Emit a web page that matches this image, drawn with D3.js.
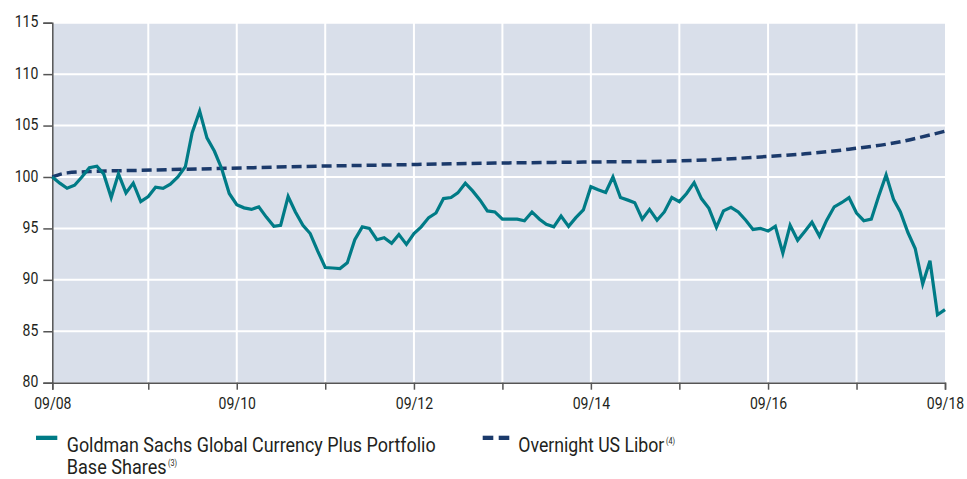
<!DOCTYPE html>
<html>
<head>
<meta charset="utf-8">
<script src="https://cdn.jsdelivr.net/npm/d3@7"></script>
<style>
  html, body { margin: 0; padding: 0; background: #ffffff; }
  svg { display: block; }
  text { font-family: Roboto, "Liberation Sans", sans-serif; fill: #231f20; }
</style>
</head>
<body>
<svg id="chart" width="967" height="479"></svg>
<script>
// ---------- DATA ----------
const startMonth = "2008-08";   // first monthly observation
const fundValues = [
  100.0, 99.4, 98.9, 99.2, 100.0, 100.9, 101.05, 100.3, 98.0, 100.3,
  98.45, 99.4, 97.6, 98.1, 99.0, 98.9, 99.3, 100.0, 101.0, 104.3,
  106.4, 103.8, 102.5, 100.8, 98.4, 97.3, 97.0, 96.85, 97.1, 96.1,
  95.2, 95.3, 98.1, 96.6, 95.3, 94.5, 92.8, 91.2, 91.15, 91.1,
  91.65, 93.9, 95.15, 95.0, 93.9, 94.1, 93.55, 94.4, 93.45, 94.5,
  95.15, 96.05, 96.5, 97.9, 98.0, 98.45, 99.4, 98.65, 97.75, 96.7,
  96.6, 95.9, 95.9, 95.9, 95.75, 96.6, 95.9, 95.4, 95.15, 96.2,
  95.2, 96.05, 96.8, 99.05, 98.75, 98.5, 100.0, 98.0, 97.75, 97.5,
  95.9, 96.85, 95.8, 96.6, 98.0, 97.6, 98.4, 99.45, 97.9, 96.95,
  95.1, 96.7, 97.05, 96.6, 95.8, 94.9, 95.0, 94.75, 95.2, 92.6,
  95.3, 93.85, 94.75, 95.6, 94.25, 95.8, 97.1, 97.5, 98.0, 96.5,
  95.75, 95.9, 98.1, 100.2, 97.8, 96.6, 94.6, 93.05, 89.6, 91.85,
  86.6, 87.1
];
const liborMonths = ["2008-08", "2008-10", "2009-02", "2009-08", "2010-08", "2011-08", "2012-08", "2013-08",
                     "2014-08", "2015-08", "2016-02", "2016-08", "2017-02", "2017-08", "2018-02", "2018-09"];
const liborValues = [100.0, 100.4, 100.55, 100.65, 100.85, 101.05, 101.2, 101.35,
                     101.45, 101.55, 101.7, 101.95, 102.25, 102.7, 103.3, 104.45];
const xTickMonths = ["2008-08", "2009-09", "2010-09", "2011-09", "2012-09", "2013-09",
                     "2014-09", "2015-09", "2016-09", "2017-09", "2018-09"];
const xTickLabels = ["09/08", "", "09/10", "", "09/12", "", "09/14", "", "09/16", "", "09/18"];
const yTicks = [80, 85, 90, 95, 100, 105, 110, 115];
const seriesNames = ["Goldman Sachs Global Currency Plus Portfolio", "Base Shares", "(3)", "Overnight US Libor", "(4)"];

// ---------- SETUP ----------
const parseMonth = d3.timeParse("%Y-%m");
const start = parseMonth(startMonth);
const fund = fundValues.map((v, i) => ({ date: d3.timeMonth.offset(start, i), value: v }));
const libor = liborMonths.map((m, i) => ({ date: parseMonth(m), value: liborValues[i] }));

const svg = d3.select("#chart");
const margin = { left: 52.3, right: 22, top: 22.7, bottom: 96.3 };
const W = 967, H = 479;
const x = d3.scaleTime()
  .domain([start, fund[fund.length - 1].date])
  .range([margin.left, W - margin.right]);
const y = d3.scaleLinear().domain([80, 115]).range([H - margin.bottom, margin.top]);

const tealColor = "#007b86";
const navyColor = "#1b3a6b";

// condensed look: squeeze glyphs horizontally
function condense(sel, factor) {
  sel.each(function () {
    const w = this.getComputedTextLength();
    if (w > 0) {
      d3.select(this).attr("textLength", w * factor).attr("lengthAdjust", "spacingAndGlyphs");
    }
  });
}

// plot background
svg.append("rect")
  .attr("x", x.range()[0]).attr("y", y(115))
  .attr("width", x.range()[1] - x.range()[0])
  .attr("height", y(80) - y(115))
  .attr("fill", "#d9dfea");

// gridlines
const tickDates = xTickMonths.map(parseMonth);
svg.append("g").selectAll("line").data(yTicks.filter(t => t > 80)).join("line")
  .attr("x1", x.range()[0]).attr("x2", x.range()[1])
  .attr("y1", d => y(d)).attr("y2", d => y(d))
  .attr("stroke", "#ffffff").attr("stroke-width", 2);
svg.append("g").selectAll("line").data(tickDates.slice(1, -1)).join("line")
  .attr("x1", d => x(d)).attr("x2", d => x(d))
  .attr("y1", y(115)).attr("y2", y(80))
  .attr("stroke", "#ffffff").attr("stroke-width", 2);

// axes
const yAxis = d3.axisLeft(y).tickValues(yTicks).tickSize(9).tickPadding(5).tickFormat(d3.format("d"));
const gy = svg.append("g").attr("transform", `translate(${x.range()[0]},0)`).call(yAxis);
gy.select(".domain").attr("stroke", "#555").attr("stroke-width", 1.5);
gy.selectAll(".tick line").attr("stroke", "#555").attr("stroke-width", 1.5);
gy.selectAll(".tick text").style("font-size", "16.5px").style("font-family", "Roboto, sans-serif")
  .attr("fill", "#231f20").attr("dy", "0.25em");
condense(gy.selectAll(".tick text"), 0.85);

const xAxis = d3.axisBottom(x).tickValues(tickDates).tickSize(7).tickPadding(8)
  .tickFormat((d, i) => xTickLabels[i]);
const gx = svg.append("g").attr("transform", `translate(0,${y(80)})`).call(xAxis);
gx.select(".domain").attr("stroke", "#555").attr("stroke-width", 1.5);
gx.selectAll(".tick line").attr("stroke", "#555").attr("stroke-width", 1.5);
gx.selectAll(".tick text").style("font-size", "16.5px").style("font-family", "Roboto, sans-serif")
  .attr("fill", "#231f20");
condense(gx.selectAll(".tick text"), 0.85);

// lines
svg.append("path").datum(libor)
  .attr("d", d3.line().curve(d3.curveMonotoneX).x(d => x(d.date)).y(d => y(d.value)))
  .attr("fill", "none").attr("stroke", navyColor).attr("stroke-width", 3.5)
  .attr("stroke-dasharray", "10,5");
svg.append("path").datum(fund)
  .attr("d", d3.line().x(d => x(d.date)).y(d => y(d.value)))
  .attr("fill", "none").attr("stroke", tealColor).attr("stroke-width", 3.2)
  .attr("stroke-linejoin", "miter");

// legend
const lg = svg.append("g");
lg.append("rect").attr("x", 36).attr("y", 435.7).attr("width", 21.3).attr("height", 4.3).attr("fill", tealColor);
lg.append("text").attr("x", 66.7).attr("y", 452).style("font-size", "20px")
  .text(seriesNames[0]).attr("textLength", 369).attr("lengthAdjust", "spacingAndGlyphs");
lg.append("text").attr("x", 66.7).attr("y", 474).style("font-size", "20px")
  .text(seriesNames[1]).attr("textLength", 100).attr("lengthAdjust", "spacingAndGlyphs");
lg.append("text").attr("x", 168).attr("y", 466).style("font-size", "9px")
  .text(seriesNames[2]).attr("textLength", 9).attr("lengthAdjust", "spacingAndGlyphs");

lg.append("rect").attr("x", 482.7).attr("y", 435.7).attr("width", 10.6).attr("height", 4.3).attr("fill", navyColor);
lg.append("rect").attr("x", 498.7).attr("y", 435.7).attr("width", 10.6).attr("height", 4.3).attr("fill", navyColor);
lg.append("text").attr("x", 518.3).attr("y", 452).style("font-size", "20px")
  .text(seriesNames[3]).attr("textLength", 146).attr("lengthAdjust", "spacingAndGlyphs");
lg.append("text").attr("x", 666).attr("y", 444).style("font-size", "9px")
  .text(seriesNames[4]).attr("textLength", 9).attr("lengthAdjust", "spacingAndGlyphs");
</script>
</body>
</html>
